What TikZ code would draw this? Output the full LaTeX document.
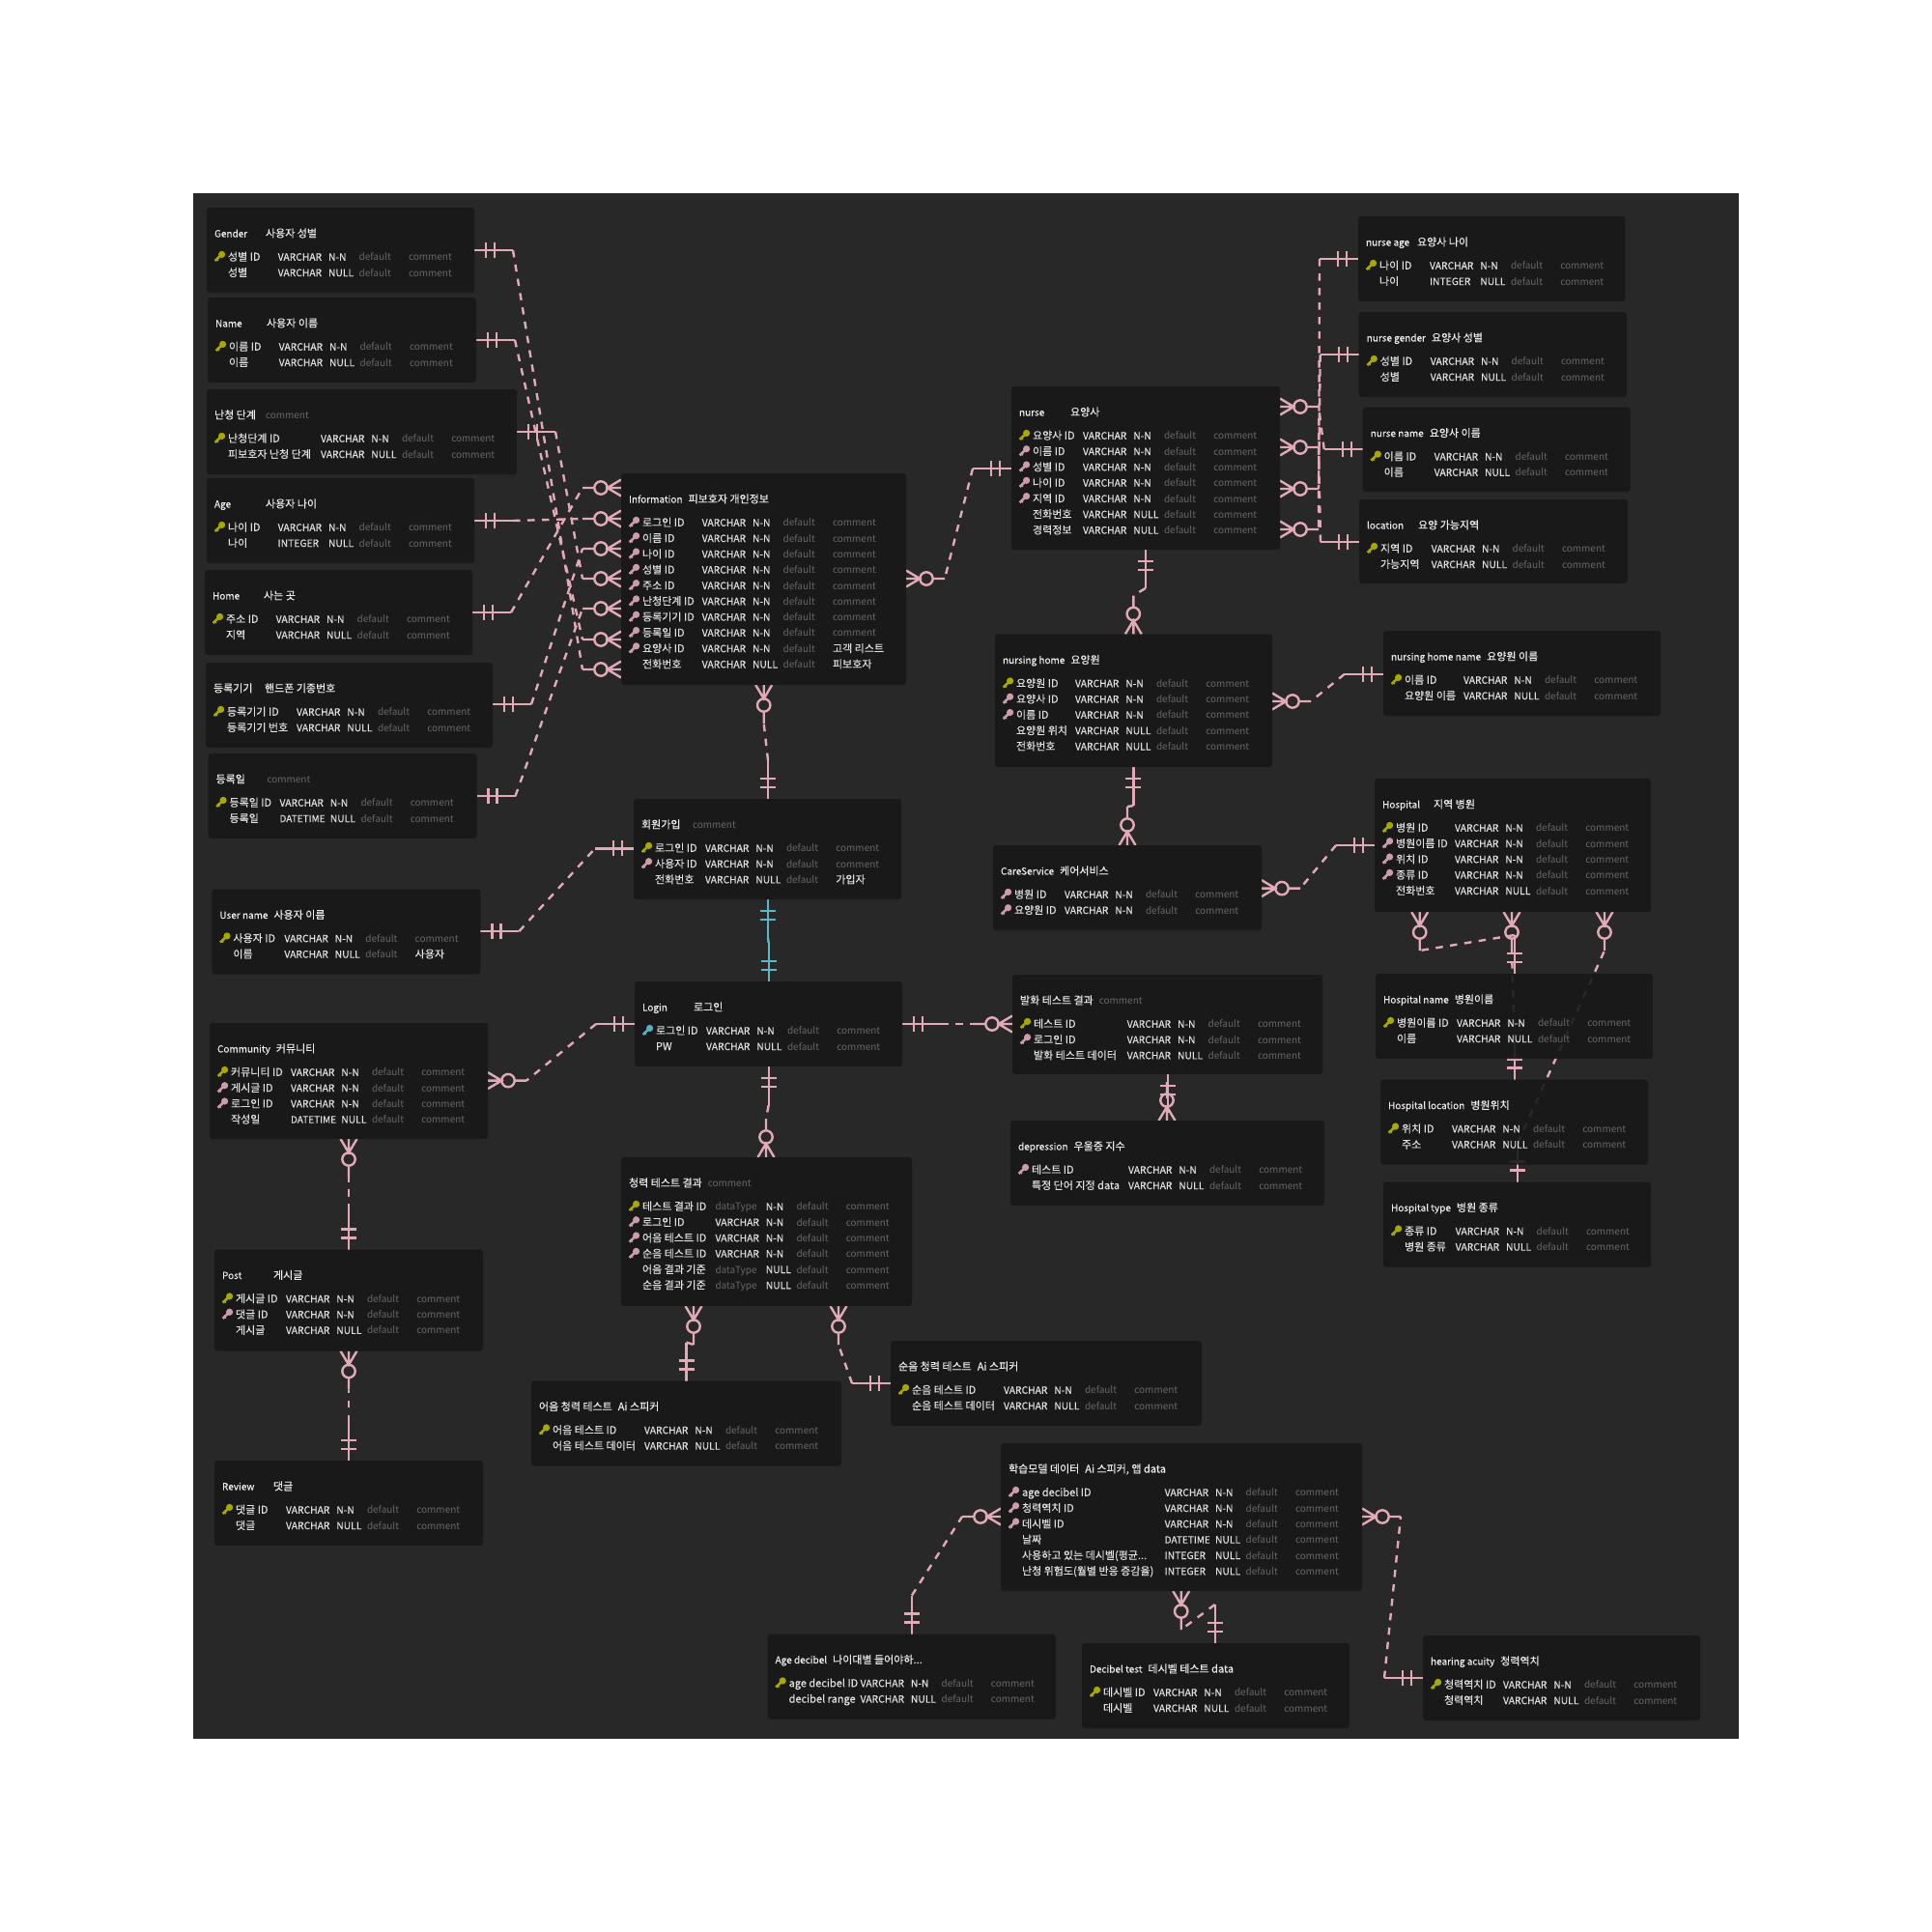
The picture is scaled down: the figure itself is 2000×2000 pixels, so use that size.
\documentclass[tikz,border=0pt]{standalone}
\usepackage{fontspec}
\setmainfont{Noto Sans CJK KR}
\newfontfamily\heavyish[FakeBold=0.25]{Noto Sans CJK KR}
\definecolor{pagebg}{HTML}{282828}
\definecolor{boxbg}{HTML}{181818}
\definecolor{erpink}{HTML}{E2AAB6}
\definecolor{ercyan}{HTML}{5CB8C6}
\definecolor{keyy}{HTML}{A8A800}
\definecolor{keyp}{HTML}{CC9CA8}
\definecolor{keyc}{HTML}{58AEC0}
\definecolor{txt}{HTML}{E0E0E0}
\definecolor{txtt}{HTML}{ECECEC}
\definecolor{grey}{HTML}{676767}
\pgfdeclarelayer{pagelayer}\pgfdeclarelayer{edgelayer}
\pgfsetlayers{pagelayer,edgelayer,main}
\tikzset{
  erline/.style={draw=erpink,line width=2.4pt},
  erdash/.style={erline,dash pattern=on 7.5pt off 7.5pt},
  tablebox/.style={rectangle,rounded corners=3pt,fill=boxbg,fill opacity=.9,anchor=north west,inner sep=0pt,outer sep=0pt},
  cell/.style={anchor=base west,inner sep=0pt,outer sep=0pt,font=\heavyish\fontsize{11}{13}\selectfont,text=txt},
  typecell/.style={cell,font=\heavyish\fontsize{10.3}{13}\selectfont},
  titlecell/.style={cell,text=txtt},
  greycell/.style={cell,font=\fontsize{10}{13}\selectfont,text=grey},
}
\def\cc{c}\def\dt{dataType}
\def\tdots{...}
\newcommand\dtm{{\fontsize{10}{13}\selectfont DATETIME}}
\newcommand\lt[1]{{\fontsize{10}{13}\selectfont #1}}
\newcommand\keyicon[3]{% x,y,colour
  \begin{scope}[shift={(#1,#2)}]
    \fill[#3] (2.6,-2.4) circle [radius=3.6];
    \draw[#3,line width=2.6pt] (2.6,-2.4) -- (-4.4,4.2);
    \draw[#3,line width=1.6pt] (-2.6,2.4) -- (-1.2,4.2);
  \end{scope}}
% id, x, y, w, h, type offset, title1, title2, rows
\newcommand\ertable[9]{%
  \node[tablebox,minimum width=#4pt,minimum height=#5pt] (#1) at (#2,#3) {};
  \node[titlecell] (#1-ta) at (#2+8,#3+30.5) {#7};
  \pgfpointanchor{#1-ta}{east}\pgfgetlastxy{\xa}{\ya}%
  \pgfmathsetmacro\xb{max(\xa/1pt,#2+55)+6}%
  \node[titlecell] (#1-tb) at (\xb,#3+30.5) {#8};
  \foreach \kk/\nm/\ty/\nl/\cm [count=\i] in {#9}{%
    \pgfmathsetmacro\ry{#3+54.8+(\i-1)*16.3}%
    \if\kk n\else\keyicon{#2+13}{\ry-4}{key\kk}\fi
    \node[cell] (#1-n\i) at (#2+22,\ry) {\nm};
    \ifx\ty\dt
      \node[greycell] (#1-y\i) at (#2+#6,\ry) {\ty};
    \else
      \node[typecell] (#1-y\i) at (#2+#6,\ry) {\ty};
    \fi
    \node[typecell] (#1-u\i) at (#2+#6+52.3,\ry) {\nl};
    \node[greycell] (#1-d\i) at (#2+#6+84,\ry) {default};
    \ifx\cm\cc
      \node[greycell] (#1-c\i) at (#2+#6+135.3,\ry) {comment};
    \else
      \node[cell] (#1-c\i) at (#2+#6+135.3,\ry) {\cm};
    \fi
  }}
\newcommand\gc[1]{\textcolor{grey}{\normalfont\fontsize{10}{13}\selectfont #1}}
% connector ends
\def\erseast#1#2{\coordinate (#1) at (#2.east |- ertmp);\tikzset{#1fr/.style={shift={(#1)},x={(1pt,0pt)},y={(0pt,1pt)}}}}
\def\erswest#1#2{\coordinate (#1) at (#2.west |- ertmp);\tikzset{#1fr/.style={shift={(#1)},x={(-1pt,0pt)},y={(0pt,1pt)}}}}
\def\ersnorth#1#2{\coordinate (#1) at (ertmp |- #2.north);\tikzset{#1fr/.style={shift={(#1)},x={(0pt,1pt)},y={(1pt,0pt)}}}}
\def\erssouth#1#2{\coordinate (#1) at (ertmp |- #2.south);\tikzset{#1fr/.style={shift={(#1)},x={(0pt,-1pt)},y={(1pt,0pt)}}}}
\def\erkone{\draw[erline] (0,0)--(40,0) (12,-8)--(12,8) (21,-8)--(21,8);}
\def\erkmany{\draw[erline] (0,-8.5)--(14.3,0)--(0,8.5) (0,0)--(14.3,0) (27.7,0)--(40,0);\draw[erline] (21,0) circle [radius=6.7];}
\newcommand\erend[5]{% out, node, side, c, kind
  \coordinate (ertmp) at (#4,#4);
  \csname ers#3\endcsname{#1}{#2}
  \begin{scope}[#1fr]
    \csname erk#5\endcsname
    \coordinate (#1e) at (40,0);
  \end{scope}}
\newcommand\erconn[8]{%
  \erend{pa}{#1}{#2}{#3}{#4}
  \erend{pb}{#5}{#6}{#7}{#8}
  \draw[erdash] (pae) -- (pbe);}
\begin{document}
\begin{tikzpicture}[x=1pt,y=-1pt]
\begin{pgfonlayer}{pagelayer}
\fill[white] (0,0) rectangle (2000,2000);
\fill[pagebg] (200,200) rectangle (1800,1800);
\end{pgfonlayer}
\useasboundingbox (0,0) rectangle (2000,2000);
% ---------- tables
\ertable{Gender}{214}{215}{277}{88}{73.7}{\lt{Gender}}{사용자 성별}{y/성별 ID/VARCHAR/N-N/c,n/성별/VARCHAR/NULL/c}
\ertable{Name}{215}{308}{278}{88}{73.7}{\lt{Name}}{사용자 이름}{y/이름 ID/VARCHAR/N-N/c,n/이름/VARCHAR/NULL/c}
\ertable{Level}{214}{403}{321}{88}{118}{난청 단계}{\gc{comment}}{y/난청단계 ID/VARCHAR/N-N/c,n/피보호자 난청 단계/VARCHAR/NULL/c}
\ertable{Age}{214}{495}{277}{88}{73.7}{\lt{Age}}{사용자 나이}{y/나이 ID/VARCHAR/N-N/c,n/나이/INTEGER/NULL/c}
\ertable{Home}{212}{590}{277}{88}{73.7}{\lt{Home}}{사는 곳}{y/주소 ID/VARCHAR/N-N/c,n/지역/VARCHAR/NULL/c}
\ertable{Device}{213}{686}{297}{88}{94}{등록기기}{핸드폰 기종번호}{y/등록기기 ID/VARCHAR/N-N/c,n/등록기기 번호/VARCHAR/NULL/c}
\ertable{RegDate}{215.5}{780}{278}{88}{74}{등록일}{\gc{comment}}{y/등록일 ID/VARCHAR/N-N/c,n/등록일/\dtm/NULL/c}
\ertable{Info}{643}{490}{295}{219}{83.7}{\lt{Information}}{피보호자 개인정보}{p/로그인 ID/VARCHAR/N-N/c,p/이름 ID/VARCHAR/N-N/c,p/나이 ID/VARCHAR/N-N/c,p/성별 ID/VARCHAR/N-N/c,p/주소 ID/VARCHAR/N-N/c,p/난청단계 ID/VARCHAR/N-N/c,p/등록기기 ID/VARCHAR/N-N/c,p/등록일 ID/VARCHAR/N-N/c,p/요양사 ID/VARCHAR/N-N/고객 리스트,n/전화번호/VARCHAR/NULL/피보호자}
\ertable{Signup}{656}{827}{277}{104}{74}{회원가입}{\gc{comment}}{y/로그인 ID/VARCHAR/N-N/c,p/사용자 ID/VARCHAR/N-N/c,n/전화번호/VARCHAR/NULL/가입자}
\ertable{UserName}{219.4}{920.5}{278}{88}{75}{\lt{User name}}{사용자 이름}{y/사용자 ID/VARCHAR/N-N/c,n/이름/VARCHAR/NULL/사용자}
\ertable{Community}{217}{1059}{288}{120}{84}{\lt{Community}}{커뮤니티}{y/커뮤니티 ID/VARCHAR/N-N/c,p/게시글 ID/VARCHAR/N-N/c,p/로그인 ID/VARCHAR/N-N/c,n/작성일/\dtm/NULL/c}
\ertable{Post}{222}{1293.5}{278}{105}{74}{\lt{Post}}{게시글}{y/게시글 ID/VARCHAR/N-N/c,p/댓글 ID/VARCHAR/N-N/c,n/게시글/VARCHAR/NULL/c}
\ertable{Review}{222}{1512}{278}{88}{74}{\lt{Review}}{댓글}{y/댓글 ID/VARCHAR/N-N/c,n/댓글/VARCHAR/NULL/c}
\ertable{Login}{657}{1016}{277}{88}{74}{\lt{Login}}{로그인}{c/로그인 ID/VARCHAR/N-N/c,n/PW/VARCHAR/NULL/c}
\ertable{Hearing}{643}{1198}{301}{154}{97.5}{청력 테스트 결과}{\gc{comment}}{y/테스트 결과 ID/dataType/N-N/c,p/로그인 ID/VARCHAR/N-N/c,p/어음 테스트 ID/VARCHAR/N-N/c,p/순음 테스트 ID/VARCHAR/N-N/c,n/어음 결과 기준/dataType/NULL/c,n/순음 결과 기준/dataType/NULL/c}
\ertable{Speech}{550}{1429.5}{321}{88}{117}{어음 청력 테스트}{Ai 스피커}{y/어음 테스트 ID/VARCHAR/N-N/c,n/어음 테스트 데이터/VARCHAR/NULL/c}
\ertable{Tone}{922}{1388}{322}{88}{117}{순음 청력 테스트}{Ai 스피커}{y/순음 테스트 ID/VARCHAR/N-N/c,n/순음 테스트 데이터/VARCHAR/NULL/c}
\ertable{Model}{1036}{1494}{374}{153}{169.7}{학습모델 데이터}{Ai 스피커, 앱 data}{p/age decibel ID/VARCHAR/N-N/c,p/청력역치 ID/VARCHAR/N-N/c,p/데시벨 ID/VARCHAR/N-N/c,n/날짜/\dtm/NULL/c,n/사용하고 있는 데시벨(평균\tdots/INTEGER/NULL/c,n/난청 위험도(월별 반응 증감율)/INTEGER/NULL/c}
\ertable{AgeDb}{794.6}{1691.5}{298.4}{88}{96}{\lt{Age decibel}}{나이대별 들어야하...}{y/age decibel ID/VARCHAR/N-N/c,n/decibel range/VARCHAR/NULL/c}
\ertable{DbTest}{1120}{1701}{277}{88}{74}{\lt{Decibel test}}{데시벨 테스트 data}{y/데시벨 ID/VARCHAR/N-N/c,n/데시벨/VARCHAR/NULL/c}
\ertable{Acuity}{1473}{1693}{287}{88}{83}{\lt{hearing acuity}}{청력역치}{y/청력역치 ID/VARCHAR/N-N/c,n/청력역치/VARCHAR/NULL/c}
\ertable{Nurse}{1047}{400}{278}{169}{74}{\lt{nurse}}{요양사}{y/요양사 ID/VARCHAR/N-N/c,p/이름 ID/VARCHAR/N-N/c,p/성별 ID/VARCHAR/N-N/c,p/나이 ID/VARCHAR/N-N/c,p/지역 ID/VARCHAR/N-N/c,n/전화번호/VARCHAR/NULL/c,n/경력정보/VARCHAR/NULL/c}
\ertable{NHome}{1030}{656.5}{287}{137.5}{83}{\lt{nursing home}}{요양원}{y/요양원 ID/VARCHAR/N-N/c,p/요양사 ID/VARCHAR/N-N/c,p/이름 ID/VARCHAR/N-N/c,n/요양원 위치/VARCHAR/NULL/c,n/전화번호/VARCHAR/NULL/c}
\ertable{Care}{1028}{875}{278}{88}{74}{\lt{CareService}}{케어서비스}{p/병원 ID/VARCHAR/N-N/c,p/요양원 ID/VARCHAR/N-N/c}
\ertable{Speak}{1048}{1009}{321}{103}{118.7}{발화 테스트 결과}{\gc{comment}}{y/테스트 ID/VARCHAR/N-N/c,p/로그인 ID/VARCHAR/N-N/c,n/발화 테스트 데이터/VARCHAR/NULL/c}
\ertable{Depress}{1046}{1160}{325}{88}{122}{\lt{depression}}{우울증 지수}{p/테스트 ID/VARCHAR/N-N/c,n/특정 단어 지정 data/VARCHAR/NULL/c}
\ertable{NAge}{1406}{224}{276.4}{88}{74}{\lt{nurse age}}{요양사 나이}{y/나이 ID/VARCHAR/N-N/c,n/나이/INTEGER/NULL/c}
\ertable{NGender}{1406.7}{323}{277.3}{88}{74}{\lt{nurse gender}}{요양사 성별}{y/성별 ID/VARCHAR/N-N/c,n/성별/VARCHAR/NULL/c}
\ertable{NName}{1410.7}{421.7}{276.8}{87.5}{74}{\lt{nurse name}}{요양사 이름}{y/이름 ID/VARCHAR/N-N/c,n/이름/VARCHAR/NULL/c}
\ertable{NLoc}{1407}{517}{278}{87}{74.7}{\lt{location}}{요양 가능지역}{y/지역 ID/VARCHAR/N-N/c,n/가능지역/VARCHAR/NULL/c}
\ertable{NHName}{1432}{653}{287}{88}{83}{\lt{nursing home name}}{요양원 이름}{y/이름 ID/VARCHAR/N-N/c,n/요양원 이름/VARCHAR/NULL/c}
\ertable{Hosp}{1423}{806}{286}{138}{83}{\lt{Hospital}}{지역 병원}{y/병원 ID/VARCHAR/N-N/c,p/병원이름 ID/VARCHAR/N-N/c,p/위치 ID/VARCHAR/N-N/c,p/종류 ID/VARCHAR/N-N/c,n/전화번호/VARCHAR/NULL/c}
\ertable{HName}{1424}{1008}{287}{88}{84}{\lt{Hospital name}}{병원이름}{y/병원이름 ID/VARCHAR/N-N/c,n/이름/VARCHAR/NULL/c}
\ertable{HLoc}{1429}{1117.6}{277}{88}{74}{\lt{Hospital location}}{병원위치}{y/위치 ID/VARCHAR/N-N/c,n/주소/VARCHAR/NULL/c}
\ertable{HType}{1432}{1223.5}{277}{88}{74.7}{\lt{Hospital type}}{병원 종류}{y/종류 ID/VARCHAR/N-N/c,n/병원 종류/VARCHAR/NULL/c}
% ---------- connectors
\begin{pgfonlayer}{edgelayer}
\erconn{Gender}{east}{259}{one}{Info}{west}{693}{many}
\erconn{Name}{east}{352}{one}{Info}{west}{662}{many}
\erconn{Level}{east}{447}{one}{Info}{west}{599}{many}
\erconn{Age}{east}{539}{one}{Info}{west}{537}{many}
\erconn{Home}{east}{634}{one}{Info}{west}{505}{many}
\erconn{Device}{east}{729}{one}{Info}{west}{568}{many}
\erconn{RegDate}{east}{824}{one}{Info}{west}{630}{many}
\erconn{Nurse}{west}{485}{one}{Info}{east}{599}{many}
\erconn{Signup}{north}{795}{one}{Info}{south}{790.7}{many}
\erconn{UserName}{east}{964}{one}{Signup}{west}{878.3}{one}
\begin{scope}[erline/.append style={draw=ercyan}]
\erconn{Signup}{south}{795}{one}{Login}{north}{795.7}{one}
\end{scope}
\erconn{Login}{west}{1060}{one}{Community}{east}{1118.6}{many}
\erconn{Post}{north}{361}{one}{Community}{south}{361}{many}
\erconn{Review}{north}{361}{one}{Post}{south}{361}{many}
\erconn{Login}{east}{1060}{one}{Speak}{west}{1060}{many}
\erconn{Login}{south}{795.7}{one}{Hearing}{north}{793}{many}
\erconn{Speech}{north}{710.5}{one}{Hearing}{south}{718}{many}
\erconn{Tone}{west}{1432}{one}{Hearing}{south}{868}{many}
\erconn{Speak}{south}{1208.7}{one}{Depress}{north}{1208}{many}
\erconn{AgeDb}{north}{944}{one}{Model}{west}{1570}{many}
\erconn{DbTest}{north}{1257.7}{one}{Model}{south}{1222.7}{many}
\erconn{Acuity}{west}{1737}{one}{Model}{east}{1570}{many}
\erconn{NAge}{west}{268}{one}{Nurse}{east}{548}{many}
\erconn{NGender}{west}{367}{one}{Nurse}{east}{506}{many}
\erconn{NName}{west}{465}{one}{Nurse}{east}{421}{many}
\erconn{NLoc}{west}{561}{one}{Nurse}{east}{463}{many}
\erconn{Nurse}{south}{1185.7}{one}{NHome}{north}{1173.3}{many}
\erconn{NHName}{west}{697.7}{one}{NHome}{east}{726}{many}
\erconn{NHome}{south}{1173.3}{one}{Care}{north}{1167}{many}
\erconn{Hosp}{west}{875}{one}{Care}{east}{919.6}{many}
\erconn{HName}{north}{1567.7}{one}{Hosp}{south}{1469.7}{many}
\erconn{HLoc}{north}{1567.7}{one}{Hosp}{south}{1565}{many}
\erconn{HType}{north}{1571}{one}{Hosp}{south}{1661}{many}
\end{pgfonlayer}
\end{tikzpicture}
\end{document}
